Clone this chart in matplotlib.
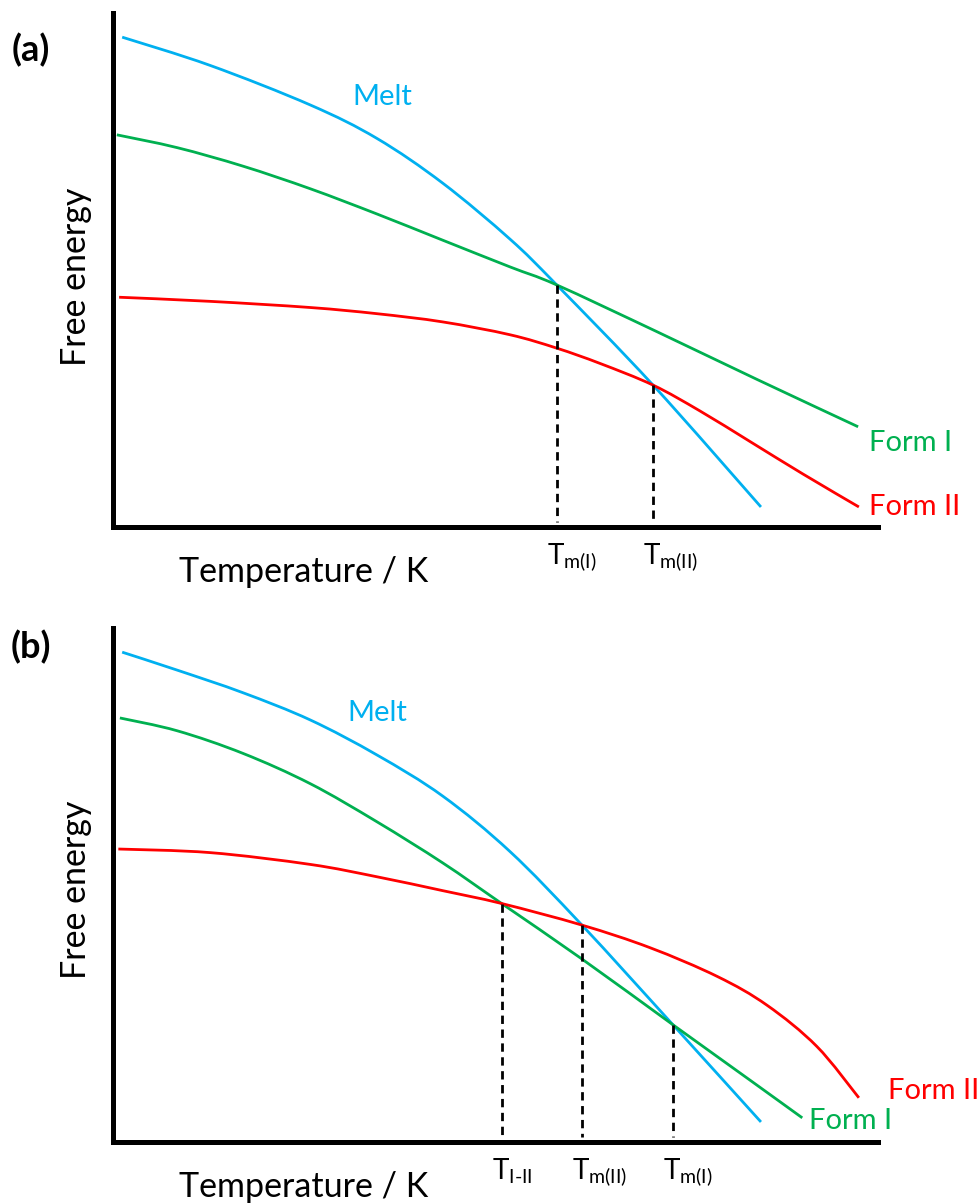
import matplotlib
matplotlib.use("Agg")
import matplotlib.pyplot as plt
from matplotlib.path import Path
from matplotlib.patches import PathPatch

plt.rcParams['font.family'] = ['Lato', 'DejaVu Sans']
plt.rcParams['mathtext.fontset'] = 'custom'
plt.rcParams['mathtext.rm'] = 'Lato'
plt.rcParams['mathtext.it'] = 'Lato:italic'
plt.rcParams['mathtext.bf'] = 'Lato:bold'

BLUE = '#00B0F0'
GREEN = '#00B050'
RED = '#FF0000'

# (a) monotrope : Form II stable partout
T_melt_a = [1.2, 12.7, 25.8, 34.5, 43.1, 51.9, 58.0, 70.6, 84.7]
G_melt_a = [95.3, 89.8, 82.1, 75.6, 66.9, 56.0, 47.1, 27.6, 3.9]
T_f1_a = [0.5, 8.4, 17.0, 25.8, 34.5, 43.1, 51.9, 58.0, 71.1, 84.2, 97.4]
G_f1_a = [76.3, 73.8, 70.2, 65.8, 60.9, 55.8, 50.6, 47.1, 38.0, 28.7, 19.5]
T_f2_a = [0.8, 12.7, 25.8, 34.5, 43.1, 51.9, 58.0, 63.7, 70.6, 76.7, 83.3, 90.2, 97.5]
G_f2_a = [44.7, 43.9, 42.7, 41.5, 39.9, 37.4, 34.8, 31.8, 27.6, 22.6, 16.6, 10.3, 3.9]
Tx_a = [58.0, 70.6]
Gx_a = [47.1, 27.6]
Tlab_a = [r'T$_{\mathrm{m(I)}}$', r'T$_{\mathrm{m(II)}}$']

# (b) enantiotrope : transition I-II
T_melt_b = [1.2, 8.4, 17.0, 25.8, 34.5, 43.1, 51.9, 61.3, 73.2, 84.7]
G_melt_b = [95.3, 91.8, 87.4, 82.1, 75.3, 67.3, 56.5, 42.2, 22.8, 3.9]
T_f1_b = [0.9, 8.4, 17.0, 25.8, 34.5, 43.1, 50.8, 61.3, 73.2, 83.3, 90.1]
G_f1_b = [82.5, 80.0, 75.6, 69.7, 62.3, 54.3, 46.4, 35.6, 22.8, 12.0, 4.7]
T_f2_b = [0.7, 12.7, 25.8, 34.5, 43.1, 50.8, 61.3, 70.2, 79.0, 85.5, 92.0, 97.5]
G_f2_b = [57.0, 56.3, 54.0, 51.6, 48.9, 46.4, 42.2, 37.8, 32.2, 26.6, 18.6, 8.6]
Tx_b = [50.8, 61.3, 73.2]
Gx_b = [46.4, 42.2, 22.8]
Tlab_b = [r'T$_{\mathrm{I\text{-}II}}$', r'T$_{\mathrm{m(II)}}$', r'T$_{\mathrm{m(I)}}$']

W, H = 979, 1204
fig = plt.figure(figsize=(W / 100, H / 100), dpi=100)


def panel(top, bottom):
    ax = fig.add_axes([113 / W, 1 - bottom / H, 765 / W, (bottom - top) / H])
    ax.set_xlim(0, 100)
    ax.set_ylim(0, 100)
    ax.spines['top'].set_visible(False)
    ax.spines['right'].set_visible(False)
    ax.spines['left'].set_linewidth(3.6)
    ax.spines['bottom'].set_linewidth(3.6)
    ax.set_xticks([])
    ax.set_yticks([])
    return ax


def smooth_curve(ax, xs, ys, color):
    # courbe lissée passant par les points lus (Catmull-Rom -> Bezier)
    pts = list(zip(xs, ys))
    n = len(pts)
    verts = [pts[0]]
    codes = [Path.MOVETO]
    for i in range(n - 1):
        p0 = pts[max(i - 1, 0)]
        p1 = pts[i]
        p2 = pts[i + 1]
        p3 = pts[min(i + 2, n - 1)]
        c1 = (p1[0] + (p2[0] - p0[0]) / 6, p1[1] + (p2[1] - p0[1]) / 6)
        c2 = (p2[0] - (p3[0] - p1[0]) / 6, p2[1] - (p3[1] - p1[1]) / 6)
        verts += [c1, c2, p2]
        codes += [Path.CURVE4] * 3
    ax.add_patch(PathPatch(Path(verts, codes), fill=False, edgecolor=color,
                           lw=2, clip_on=False, capstyle='butt'))


def draw(ax, Tm, Gm, T1, G1, T2, G2, Tx, Gx, labels):
    smooth_curve(ax, Tm, Gm, BLUE)
    smooth_curve(ax, T1, G1, GREEN)
    smooth_curve(ax, T2, G2, RED)
    for t, g, lab in zip(Tx, Gx, labels):
        ax.plot([t, t], [g, 1.0], color='black', lw=2, ls=(0, (3, 2)))
        ax.annotate(lab, xy=(t, -7.2), xytext=(-10, 0), textcoords='offset pixels',
                    ha='left', va='baseline', fontsize=20, annotation_clip=False)


# ---- (a)
axa = panel(13, 527)
draw(axa, T_melt_a, G_melt_a, T_f1_a, G_f1_a, T_f2_a, G_f2_a, Tx_a, Gx_a, Tlab_a)
axa.text(35.2, 82.1, 'Melt', color=BLUE, fontsize=21, ha='center', va='baseline')
axa.text(98.8, 14.8, 'Form I', color=GREEN, fontsize=21, va='baseline', clip_on=False)
axa.text(98.8, 2.3, 'Form II', color=RED, fontsize=21, va='baseline', clip_on=False)

# ---- (b)
axb = panel(628, 1142)
draw(axb, T_melt_b, G_melt_b, T_f1_b, G_f1_b, T_f2_b, G_f2_b, Tx_b, Gx_b, Tlab_b)
axb.text(34.6, 81.9, 'Melt', color=BLUE, fontsize=21, ha='center', va='baseline')
axb.text(91.0, 2.5, 'Form I', color=GREEN, fontsize=21, va='baseline', clip_on=False)
axb.text(101.3, 8.4, 'Form II', color=RED, fontsize=21, va='baseline', clip_on=False)

# titres des axes et lettres
for y_lab, y_fe, letter, y_let in [(582, 277, '(a)', 50), (1197, 890, '(b)', 647)]:
    fig.text(304 / W, 1 - y_lab / H, 'Temperature / K', fontsize=24.5, ha='center', va='baseline')
    fig.text(76 / W, 1 - y_fe / H, 'Free energy', fontsize=24.5, rotation=90, ha='center', va='center')
    fig.text(31 / W, 1 - y_let / H, letter, fontsize=26, fontweight='bold', ha='center', va='center')

fig.savefig('out.png', dpi=100)
